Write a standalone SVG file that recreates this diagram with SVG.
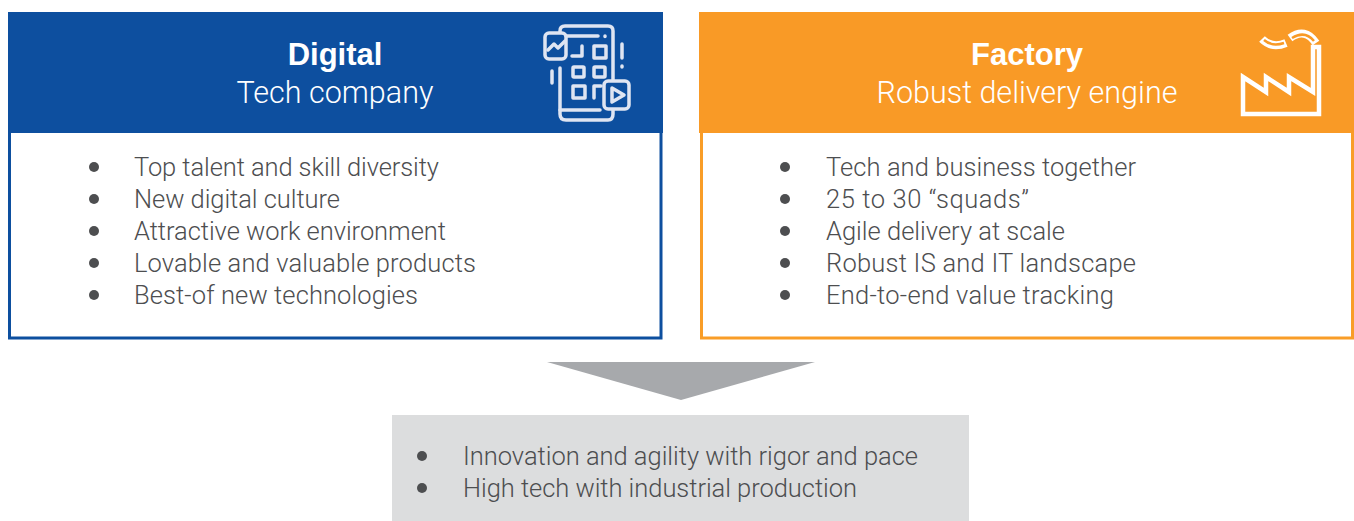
<svg xmlns="http://www.w3.org/2000/svg" width="1354" height="521" viewBox="0 0 1354 521">
<style>
text{font-family:"Roboto","Liberation Sans",sans-serif}
.h{font-family:"Liberation Sans",Arial,sans-serif;font-size:31px;font-weight:700;fill:#fff;text-anchor:middle}
.s{font-size:30.500px;font-weight:300;fill:#fff;text-anchor:middle}
.b{font-size:25.500px;font-weight:300;fill:#4d4e50}
.d{fill:#4d4e50}
.ic{fill:none;stroke:#dfe5f2;stroke-width:3.500;stroke-linejoin:round;stroke-linecap:round}
.if{fill:none;stroke:#fff;stroke-width:4.500}
.puff{stroke-width:8}
.puffin{stroke:#f99a26;stroke-width:2.500}
</style>
<defs><filter id="soft" x="-10%" y="-10%" width="120%" height="120%"><feGaussianBlur stdDeviation="0.500"/></filter></defs>
<rect width="1354" height="521" fill="#fff"/>
<g id="digital">
<rect x="9.500" y="125" width="651.500" height="213" fill="#fff" stroke="#0d4f9f" stroke-width="3"/>
<rect x="8" y="12" width="655" height="121" fill="#0d4f9f"/>
<text class="h" x="335" y="65">Digital</text>
<text class="s" x="335" y="103">Tech company</text>
<g class="ic" filter="url(#soft)">
<path d="M560 34V31Q560 26 565 26H608Q613 26 613 31V82M560 68V114Q560 120 566 120H608Q613 120 613 114V109"/>
<path d="M566 36H598M605 36V36.500M560 110H600"/>
<rect x="545" y="33" width="21" height="26" rx="4" fill="#0d4f9f"/>
<path d="M548 50L554 44L558 48L565 41"/>
<path d="M572 56H582V46M594 46H606V58H594Z"/>
<rect x="573" y="67" width="11" height="10" rx="1"/><rect x="594" y="67" width="11" height="10" rx="1"/>
<path d="M573 86H585V98H573ZM594 98V86H601"/>
<path d="M552 71V83M622 44V58M622 66V67"/>
<rect x="604" y="81" width="25" height="28" rx="4" fill="#0d4f9f"/>
<path d="M612 88L624 95L612 102Z"/>
</g>
</g>
<g id="factory">
<rect x="701.500" y="125" width="651" height="213" fill="#fff" stroke="#f99d27" stroke-width="3"/>
<rect x="699" y="12" width="655" height="121" fill="#f99a26"/>
<text class="h" x="1027" y="65">Factory</text>
<text class="s" x="1027" y="103">Robust delivery engine</text>
<g class="if">
<path d="M1243 77L1266 92V77L1289 92V77L1313 92V47H1319V114H1243Z"/>
<path class="puff" d="M1262 39Q1272 49 1286 43"/>
<path class="puff" d="M1290 38Q1305 27 1316 43"/>
<path class="puffin" d="M1264 40Q1272 47 1284 43"/>
<path class="puffin" d="M1292 38Q1305 30 1314 41"/>
</g>
</g>
<g id="result">
<rect x="392" y="415" width="577" height="106" fill="#dcddde"/>
</g>
<g id="connectors">
<path d="M547 362H815L681 400Z" fill="#a7a9ac"/>
</g>
<g id="digital-list">
<circle class="d" cx="94" cy="167" r="5"/><text class="b" x="134" y="176" textLength="305">Top talent and skill diversity</text>
<circle class="d" cx="94" cy="199" r="5"/><text class="b" x="134" y="208" textLength="206">New digital culture</text>
<circle class="d" cx="94" cy="231" r="5"/><text class="b" x="134" y="240" textLength="312">Attractive work environment</text>
<circle class="d" cx="94" cy="263" r="5"/><text class="b" x="134" y="272" textLength="342">Lovable and valuable products</text>
<circle class="d" cx="94" cy="295" r="5"/><text class="b" x="134" y="304" textLength="284">Best-of new technologies</text>
</g>
<g id="factory-list">
<circle class="d" cx="785" cy="167" r="5"/><text class="b" x="826" y="176" textLength="310">Tech and business together</text>
<circle class="d" cx="785" cy="199" r="5"/><text class="b" x="826" y="208" textLength="203">25 to 30 “squads”</text>
<circle class="d" cx="785" cy="231" r="5"/><text class="b" x="826" y="240" textLength="239">Agile delivery at scale</text>
<circle class="d" cx="785" cy="263" r="5"/><text class="b" x="826" y="272" textLength="310">Robust IS and IT landscape</text>
<circle class="d" cx="785" cy="295" r="5"/><text class="b" x="826" y="304" textLength="288">End-to-end value tracking</text>
</g>
<g id="result-list">
<circle class="d" cx="422" cy="456" r="5"/><text class="b" x="463" y="465" textLength="455">Innovation and agility with rigor and pace</text>
<circle class="d" cx="422" cy="488" r="5"/><text class="b" x="463" y="497" textLength="394">High tech with industrial production</text>
</g>
</svg>
